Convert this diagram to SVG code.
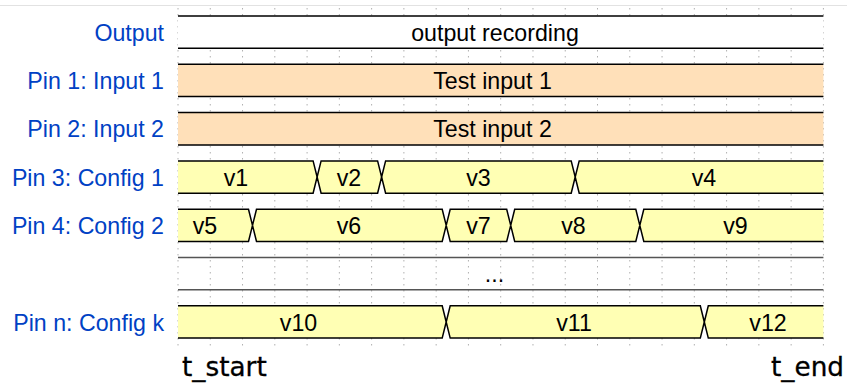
<svg xmlns="http://www.w3.org/2000/svg" width="847" height="385" viewBox="0 0 847 385">
<style>
.bg{fill:#ffffff}
.grid{stroke:#b0b0b0;stroke-width:1;stroke-dasharray:1.5 4.5}
.edge{fill:none;stroke:#000;stroke-width:1.5;stroke-linejoin:miter}
.gap{fill:none;stroke:#555;stroke-width:1.5}
.white{fill:#ffffff;stroke:none}
.peach{fill:#ffe0b9;stroke:none}
.yel{fill:#ffffb4;stroke:none}
.lbl{font-family:"Liberation Sans",Arial,sans-serif;font-size:23.2px;fill:#0041c4;text-anchor:end}
.val{font-family:"Liberation Sans",Arial,sans-serif;font-size:23.2px;fill:#000;text-anchor:middle}
.time{font-family:"DejaVu Sans",sans-serif;font-size:26.3px;fill:#000;stroke:#000;stroke-width:0.3}
</style>
<rect class="bg" x="0" y="0" width="847" height="385"/>
<line x1="0" y1="5.5" x2="847" y2="5.5" stroke="#e2e2e2" stroke-width="1"/>
<g id="grid">
<path class="grid" d="M178,8V346M210.27,8V346M242.54,8V346M274.81,8V346M307.08,8V346M339.35,8V346M371.62,8V346M403.89,8V346M436.16,8V346M468.43,8V346M500.7,8V346M532.97,8V346M565.24,8V346M597.51,8V346M629.78,8V346M662.05,8V346M694.32,8V346M726.59,8V346M758.86,8V346M791.13,8V346M823.4,8V346"/>
</g>
<g id="connectors"></g>
<g id="output">
<text class="lbl" x="164" y="40.8">Output</text>
<rect class="white" x="178" y="16" width="645.4" height="32.3"/>
<path class="edge" d="M178,16H823.4M178,48.3H823.4"/>
<text class="val" x="495" y="40.8">output recording</text>
</g>
<g id="pin1">
<text class="lbl" x="164" y="89.1">Pin 1: Input 1</text>
<rect class="peach" x="178" y="64.3" width="645.4" height="32.3"/>
<path class="edge" d="M178,64.3H823.4M178,96.6H823.4"/>
<text class="val" x="492.5" y="89.1">Test input 1</text>
</g>
<g id="pin2">
<text class="lbl" x="164" y="137.4">Pin 2: Input 2</text>
<rect class="peach" x="178" y="112.6" width="645.4" height="32.3"/>
<path class="edge" d="M178,112.6H823.4M178,144.9H823.4"/>
<text class="val" x="492.5" y="137.4">Test input 2</text>
</g>
<g id="pin3">
<text class="lbl" x="164" y="185.7">Pin 3: Config 1</text>
<polygon class="yel" points="178,160.9 313.1,160.9 317.1,177.05 321.1,160.9 377.6,160.9 381.6,177.05 385.6,160.9 571.2,160.9 575.2,177.05 579.2,160.9 823.4,160.9 823.4,193.2 579.2,193.2 575.2,177.05 571.2,193.2 385.6,193.2 381.6,177.05 377.6,193.2 321.1,193.2 317.1,177.05 313.1,193.2 178,193.2"/>
<polyline class="edge" points="178,160.9 313.1,160.9 317.1,177.05 321.1,160.9 377.6,160.9 381.6,177.05 385.6,160.9 571.2,160.9 575.2,177.05 579.2,160.9 823.4,160.9"/>
<polyline class="edge" points="178,193.2 313.1,193.2 317.1,177.05 321.1,193.2 377.6,193.2 381.6,177.05 385.6,193.2 571.2,193.2 575.2,177.05 579.2,193.2 823.4,193.2"/>
<text class="val" x="236" y="185.7">v1</text>
<text class="val" x="349" y="185.7">v2</text>
<text class="val" x="478.5" y="185.7">v3</text>
<text class="val" x="704" y="185.7">v4</text>
</g>
<g id="pin4">
<text class="lbl" x="164" y="234">Pin 4: Config 2</text>
<polygon class="yel" points="178,209.2 248.5,209.2 252.5,225.35 256.5,209.2 442.2,209.2 446.2,225.35 450.2,209.2 506.7,209.2 510.7,225.35 514.7,209.2 635.8,209.2 639.8,225.35 643.8,209.2 823.4,209.2 823.4,241.5 643.8,241.5 639.8,225.35 635.8,241.5 514.7,241.5 510.7,225.35 506.7,241.5 450.2,241.5 446.2,225.35 442.2,241.5 256.5,241.5 252.5,225.35 248.5,241.5 178,241.5"/>
<polyline class="edge" points="178,209.2 248.5,209.2 252.5,225.35 256.5,209.2 442.2,209.2 446.2,225.35 450.2,209.2 506.7,209.2 510.7,225.35 514.7,209.2 635.8,209.2 639.8,225.35 643.8,209.2 823.4,209.2"/>
<polyline class="edge" points="178,241.5 248.5,241.5 252.5,225.35 256.5,241.5 442.2,241.5 446.2,225.35 450.2,241.5 506.7,241.5 510.7,225.35 514.7,241.5 635.8,241.5 639.8,225.35 643.8,241.5 823.4,241.5"/>
<text class="val" x="205" y="234">v5</text>
<text class="val" x="349" y="234">v6</text>
<text class="val" x="478.5" y="234">v7</text>
<text class="val" x="573.5" y="234">v8</text>
<text class="val" x="735.5" y="234">v9</text>
</g>
<g id="gap">
<path class="gap" d="M178,257.5H823.4M178,289.8H823.4"/>
<text class="val" x="494.5" y="282.3">...</text>
</g>
<g id="pinn">
<text class="lbl" x="164" y="330.6">Pin n: Config k</text>
<polygon class="yel" points="178,305.8 442.2,305.8 446.2,321.95 450.2,305.8 700.3,305.8 704.3,321.95 708.3,305.8 823.4,305.8 823.4,338.1 708.3,338.1 704.3,321.95 700.3,338.1 450.2,338.1 446.2,321.95 442.2,338.1 178,338.1"/>
<polyline class="edge" points="178,305.8 442.2,305.8 446.2,321.95 450.2,305.8 700.3,305.8 704.3,321.95 708.3,305.8 823.4,305.8"/>
<polyline class="edge" points="178,338.1 442.2,338.1 446.2,321.95 450.2,338.1 700.3,338.1 704.3,321.95 708.3,338.1 823.4,338.1"/>
<text class="val" x="298.5" y="330.6">v10</text>
<text class="val" x="574" y="330.6">v11</text>
<text class="val" x="768" y="330.6">v12</text>
</g>
<g id="times">
<text class="time" x="182" y="376">t_start</text>
<text class="time" x="771" y="376">t_end</text>
</g>
</svg>
